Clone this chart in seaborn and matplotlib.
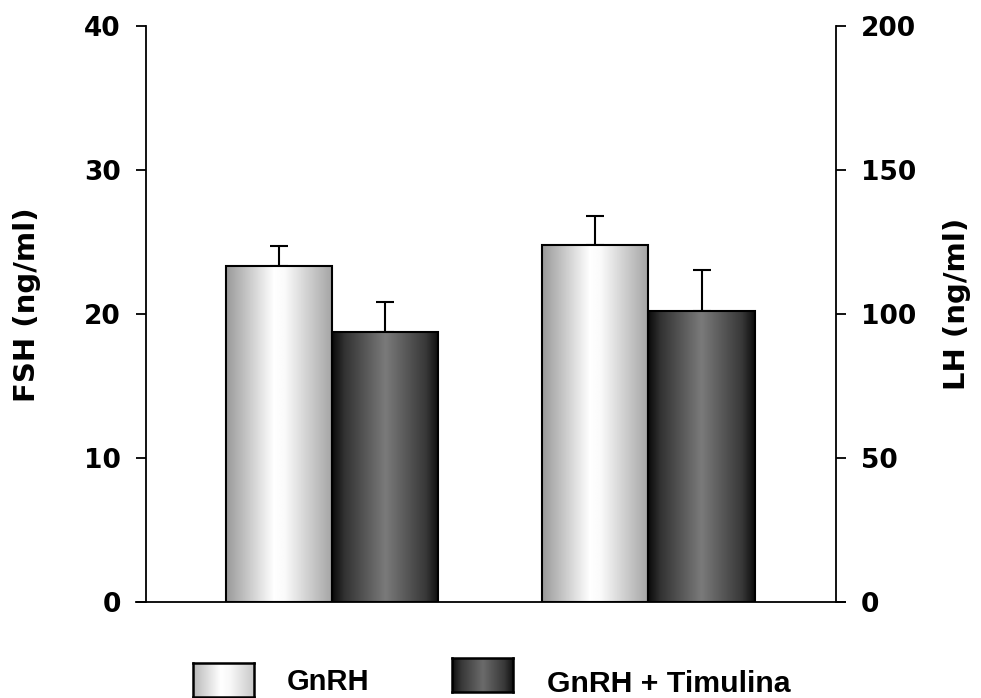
import numpy as np
import pandas as pd
import matplotlib
matplotlib.use("Agg")
import matplotlib.pyplot as plt
import seaborn as sns

# ---- data ----
hormones = ["FSH", "LH"]
treatments = ["GnRH", "GnRH + Timulina"]
fsh_means = [23.3, 18.7]
fsh_sem = [1.4, 2.1]
lh_means = [124.0, 101.0]
lh_sem = [10.0, 14.0]
fsh_ticks = [0, 10, 20, 30, 40]
lh_ticks = [0, 50, 100, 150, 200]

df_fsh = pd.DataFrame({"hormone": ["FSH"] * 2, "treatment": treatments, "value": fsh_means, "err": fsh_sem})
df_lh = pd.DataFrame({"hormone": ["LH"] * 2, "treatment": treatments, "value": lh_means, "err": lh_sem})

sns.set_theme(style="white")
plt.rcParams["font.family"] = ["DejaVu Sans"]
plt.rcParams["font.weight"] = "bold"
plt.rcParams["text.color"] = "black"

W, H = 981, 698
fig = plt.figure(figsize=(W / 100, H / 100), dpi=100)
L, R, T, B = 145.7, 836, 25.7, 601.5
ax = fig.add_axes([L / W, 1 - B / H, (R - L) / W, (B - T) / H])
ax2 = ax.twinx()

bw = 0.673
sns.barplot(data=df_fsh, x="hormone", y="value", hue="treatment", order=hormones,
            hue_order=treatments, width=bw, errorbar=None, legend=False, ax=ax,
            edgecolor="black", linewidth=1.5, palette=["#bbbbbb", "#444444"])
sns.barplot(data=df_lh, x="hormone", y="value", hue="treatment", order=hormones,
            hue_order=treatments, width=bw, errorbar=None, legend=False, ax=ax2,
            edgecolor="black", linewidth=1.5, palette=["#bbbbbb", "#444444"])

# gradient profiles
xs = np.linspace(0, 1, 256)
light = np.interp(xs, [0, 0.45, 0.55, 1], [0.60, 1.0, 0.98, 0.64])
dark = np.interp(xs, [0, 0.12, 0.5, 0.88, 1], [0.04, 0.2, 0.48, 0.22, 0.05])
grads = {treatments[0]: light, treatments[1]: dark}


def decorate(a, df):
    bars = sorted([p for p in a.patches if p.get_height() > 0], key=lambda p: p.get_x())
    for p, (_, row) in zip(bars, df.iterrows()):
        x0, w, h = p.get_x(), p.get_width(), p.get_height()
        g = grads[row["treatment"]]
        img = np.tile(g, (2, 1))
        im = a.imshow(img, cmap="gray", vmin=0, vmax=1, aspect="auto",
                      extent=[x0, x0 + w, 0, h], zorder=p.get_zorder() - 0.1,
                      interpolation="bilinear")
        im.set_clip_path(p)
        p.set_facecolor("none")
        a.errorbar([x0 + w / 2], [h], yerr=[[0], [row["err"]]], fmt="none",
                   ecolor="black", elinewidth=1.5, capsize=6.5, capthick=1.5,
                   zorder=p.get_zorder() - 0.2)


decorate(ax, df_fsh)
decorate(ax2, df_lh)

for a in (ax, ax2):
    a.set_xlim(-0.589, 1.593)
    a.set_xticks([])
    a.set_xlabel("")
    a.set_ylabel("")
    for s in a.spines.values():
        s.set_visible(False)
        s.set_linewidth(1.3)
        s.set_color("black")

ax.set_ylim(0, 40)
ax.set_yticks(fsh_ticks)
ax2.set_ylim(0, 200)
ax2.set_yticks(lh_ticks)
ax.spines["left"].set_visible(True)
ax.spines["bottom"].set_visible(True)
ax2.spines["right"].set_visible(True)
ax.tick_params(axis="y", left=True, direction="out", length=7, width=1.3,
               labelsize=19, pad=11, colors="black")
ax2.tick_params(axis="y", right=True, direction="out", length=7, width=1.3,
                labelsize=19, pad=11, colors="black")
ax.spines["bottom"].set_bounds(-0.589 - 0.03, 1.593 + 0.03)
ax.spines["bottom"].set_clip_on(False)

fig.text(27 / W, 1 - 305 / H, "FSH (ng/ml)", rotation=90, ha="center", va="center",
         fontsize=21, fontweight="bold", color="black")
fig.text(957 / W, 1 - 304 / H, "LH (ng/ml)", rotation=90, ha="center", va="center",
         fontsize=21, fontweight="bold", color="black")

# legend swatches
def swatch(x0, y0, x1, y1, g):
    sa = fig.add_axes([x0 / W, 1 - y1 / H, (x1 - x0) / W, (y1 - y0) / H])
    sa.imshow(np.tile(g, (2, 1)), cmap="gray", vmin=0, vmax=1, aspect="auto",
              interpolation="bilinear")
    sa.set_xticks([])
    sa.set_yticks([])
    for s in sa.spines.values():
        s.set_visible(True)
        s.set_color("black")
        s.set_linewidth(1.8)

sw_light = np.interp(xs, [0, 0.45, 0.6, 1], [0.72, 1.0, 0.97, 0.78])
sw_dark = np.interp(xs, [0, 0.15, 0.5, 0.85, 1], [0.05, 0.22, 0.42, 0.22, 0.05])
swatch(192.7, 662.7, 254.3, 696.7, sw_light)
swatch(451.7, 658.3, 513.3, 691.7, sw_dark)
leg_font = ["Liberation Sans", "DejaVu Sans"]
fig.text(287 / W, 1 - 690.5 / H, treatments[0], ha="left", va="baseline",
         fontsize=21, fontweight="bold", family=leg_font, color="black")
fig.text(547 / W, 1 - 691.5 / H, treatments[1], ha="left", va="baseline",
         fontsize=21.8, fontweight="bold", family=leg_font, color="black")

fig.savefig("out.png", dpi=100)
